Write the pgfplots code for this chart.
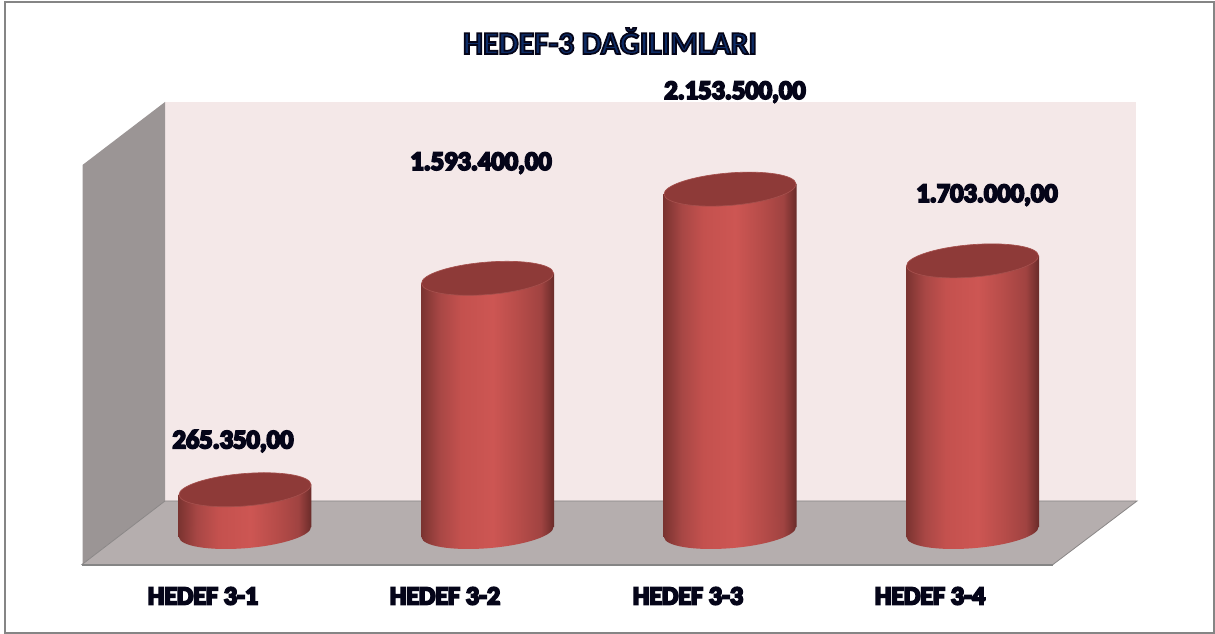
\documentclass[border=0pt]{standalone}
\usepackage{pgfplots}
\pgfplotsset{compat=1.18}
\usepackage{fontspec}
\setmainfont{Carlito}
\definecolor{frameC}{HTML}{858585}
\definecolor{wallC}{HTML}{F4E8E8}
\definecolor{sideC}{HTML}{9B9595}
\definecolor{floorC}{HTML}{B5AEAE}
\definecolor{edgeC}{HTML}{8A8787}
\definecolor{topC}{HTML}{8E3A38}
\definecolor{rimC}{HTML}{A5504D}
\definecolor{inkC}{HTML}{06061A}
\definecolor{navyC}{HTML}{0E2C66}
\definecolor{c0}{HTML}{7A3330}
\definecolor{c1}{HTML}{A84745}
\definecolor{c2}{HTML}{C4514E}
\definecolor{c3}{HTML}{CD5653}
\definecolor{c4}{HTML}{B64C49}
\definecolor{c5}{HTML}{A04341}
\definecolor{c6}{HTML}{692B29}
\pgfdeclarehorizontalshading{cyl}{100bp}{
 color(0bp)=(c0); color(25bp)=(c0); color(32bp)=(c1); color(40bp)=(c2);
 color(52bp)=(c3); color(62bp)=(c4); color(70bp)=(c5); color(75bp)=(c6); color(100bp)=(c6)}
% tilted ellipses: semi-axes 66.2 px and 16.2 px at 4.6 degrees (1 px = 0.75 pt)
\pgfdeclareplotmark{cylbase}{%
  \pgfpathellipse{\pgfpointorigin}{\pgfpoint{49.5pt}{3.98pt}}{\pgfpoint{-0.97pt}{12.11pt}}%
  \pgfshadepath{cyl}{0}\pgfusepath{discard}}
\pgfdeclareplotmark{cyltop}{%
  \pgfsetfillcolor{topC}\pgfsetstrokecolor{rimC}\pgfsetlinewidth{0.5pt}%
  \pgfpathellipse{\pgfpointorigin}{\pgfpoint{49.5pt}{3.98pt}}{\pgfpoint{-0.97pt}{12.11pt}}%
  \pgfusepathqfillstroke}
% one text per label: filled and stroked glyphs (PDF text render mode 2)
\newcommand{\fx}[6]{% x,y,size,inner colour,stroke width,text
  \node[text=#4,font={\font\fxc="Carlito/B" at #3\fxc}] at (axis cs:#1,#2)
    {\special{pdf:code q 2 Tr #5 w 0.02 0.02 0.10 RG}#6\special{pdf:code 0 Tr Q}};}
\begin{document}
\begin{tikzpicture}
\path[use as bounding box] (0,0) rectangle (911.25pt,475.5pt);
\begin{axis}[name=bg,at={(0,0)},anchor=south west,scale only axis,width=911.25pt,height=475.5pt,
  hide axis,clip=false,xmin=0,xmax=1215,ymin=0,ymax=634,y dir=reverse]
\addplot[fill=white,draw=frameC,line width=1.5pt] coordinates {(5,2) (1214,2) (1214,633) (5,633)} --cycle;
\addplot[fill=wallC,draw=none] coordinates {(165,102) (1136,102) (1136,501) (165,501)} --cycle;
\addplot[fill=sideC,draw=none] coordinates {(82.5,165) (165,102) (165,501) (82.5,564)} --cycle;
\addplot[fill=floorC,draw=edgeC,line width=0.6pt] coordinates {(165,501) (1137,501) (1053,564.5) (82,564.5)} --cycle;
\addplot[draw=frameC,line width=1.5pt] coordinates {(82,565) (1053,565)};
\end{axis}
\begin{axis}[at={(0,0)},anchor=south west,scale only axis,width=911.25pt,height=475.5pt,
  hide axis,clip=false,xmin=-1.01031,xmax=4,ymin=-640704,ymax=3341709]
% base ellipses at value 0
\addplot[only marks,mark=cylbase] coordinates {(0,0) (1,0) (2,0) (3,0)};
% cylinder bodies: each corner is offset by the tilt of the ellipse
\addplot[shading=cyl,draw=none] coordinates {(-0.2742,-31407) (0.2742,31407) (0.2742,296757) (-0.2742,233943)} --cycle;
\addplot[shading=cyl,draw=none] coordinates {(0.7258,-31407) (1.2742,31407) (1.2742,1624807) (0.7258,1561993)} --cycle;
\addplot[shading=cyl,draw=none] coordinates {(1.7258,-31407) (2.2742,31407) (2.2742,2184907) (1.7258,2122093)} --cycle;
\addplot[shading=cyl,draw=none] coordinates {(2.7258,-31407) (3.2742,31407) (3.2742,1734407) (2.7258,1671593)} --cycle;
% tops at the values
\addplot[only marks,mark=cyltop] coordinates {(0,265350) (1,1593400) (2,2153500) (3,1703000)};
\end{axis}
\begin{axis}[at={(0,0)},anchor=south west,scale only axis,width=911.25pt,height=475.5pt,
  hide axis,clip=false,xmin=0,xmax=1215,ymin=0,ymax=634,y dir=reverse]
\addplot[draw=none] coordinates {(0,0)};
\fx{610}{41}{23.8pt}{navyC}{1.3}{HEDEF-3 DAĞILIMLARI}
\fx{233}{441}{19.8pt}{inkC}{1.5}{265.350,00}
\fx{481}{163}{19.8pt}{inkC}{1.5}{1.593.400,00}
\fx{735}{92}{19.8pt}{inkC}{1.5}{2.153.500,00}
\fx{987}{195}{19.8pt}{inkC}{1.5}{1.703.000,00}
\fx{203}{596}{19.5pt}{inkC}{1.5}{HEDEF 3-1}
\fx{445}{596}{19.5pt}{inkC}{1.5}{HEDEF 3-2}
\fx{688}{596}{19.5pt}{inkC}{1.5}{HEDEF 3-3}
\fx{930}{596}{19.5pt}{inkC}{1.5}{HEDEF 3-4}
\end{axis}
\end{tikzpicture}
\end{document}
